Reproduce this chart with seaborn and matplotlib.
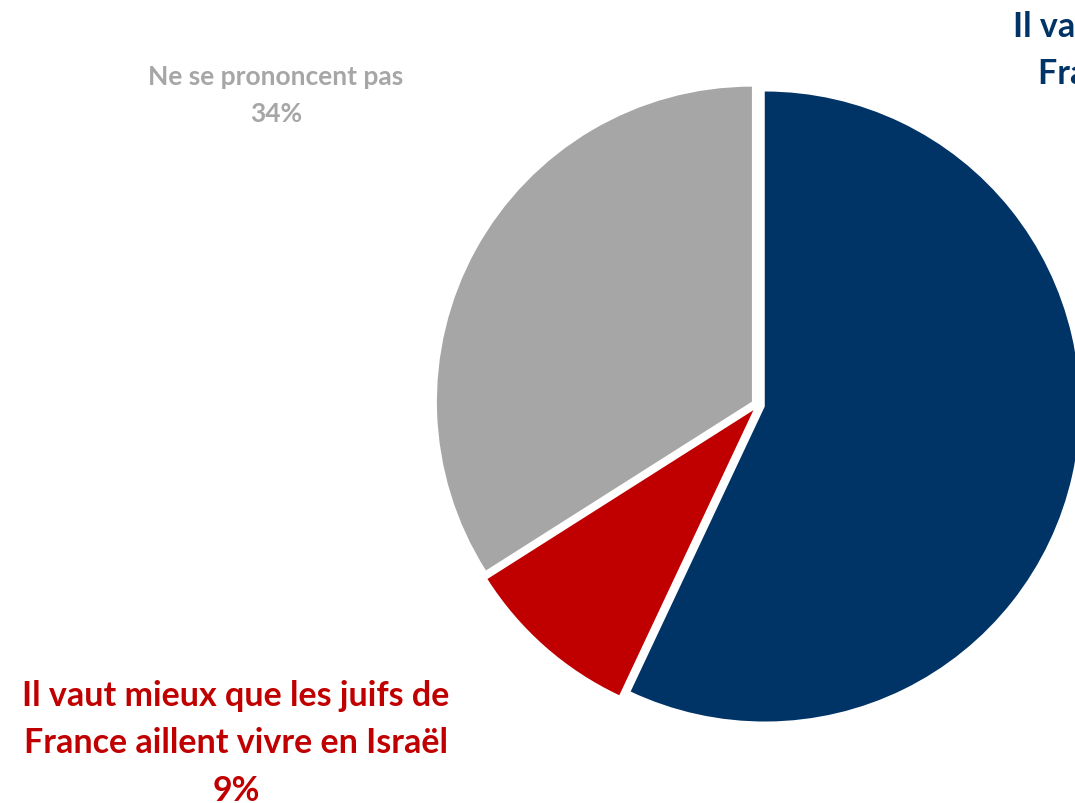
import matplotlib
matplotlib.use("Agg")
import matplotlib.pyplot as plt
import seaborn as sns

# Survey answers, share of respondents (%)
labels = [
    "Il vaut mieux que les juifs de\nFrance restent en France",
    "Il vaut mieux que les juifs de\nFrance aillent vivre en Israël",
    "Ne se prononcent pas",
]
values = [57, 9, 34]
colors = ["#003366", "#C00000", "#A6A6A6"]

sns.set_theme(style="white")
plt.rcParams["font.family"] = ["Lato", "DejaVu Sans"]

W, H = 1075, 804
fig = plt.figure(figsize=(W / 100, H / 100), dpi=100)
fig.patch.set_facecolor("white")

# Pie centred at (758, 406) px from top-left, radius 315 px
cx, cy, r = 758, 406, 315
ax = fig.add_axes([(cx - r) / W, (H - cy - r) / H, 2 * r / W, 2 * r / H])
wedges, _ = ax.pie(
    values,
    colors=colors,
    startangle=90,
    counterclock=False,
    explode=[0.022] * len(values),
    radius=1.0,
    wedgeprops=dict(linewidth=0),
)
for w in wedges:
    w.set_clip_on(False)
ax.set_xlim(-1, 1)
ax.set_ylim(-1, 1)
ax.set_aspect("equal")
ax.axis("off")

def px(x, y):
    return x / W, 1 - y / H

# (x, last-baseline y, horizontal anchor, font size, line spacing)
label_pos = [
    (1013, 132, "left", 24.5, 1.6),
    (236, 801, "center", 24.5, 1.6),
    (276, 122, "center", 19, 1.66),
]
for lab, val, col, (x, y, ha, fs, ls) in zip(labels, values, colors, label_pos):
    fig.text(*px(x, y), f"{lab}\n{val}%", color=col, fontsize=fs,
             fontweight="bold", ha=ha, va="baseline",
             multialignment="center", linespacing=ls)

fig.savefig("out.png", dpi=100, facecolor="white")
